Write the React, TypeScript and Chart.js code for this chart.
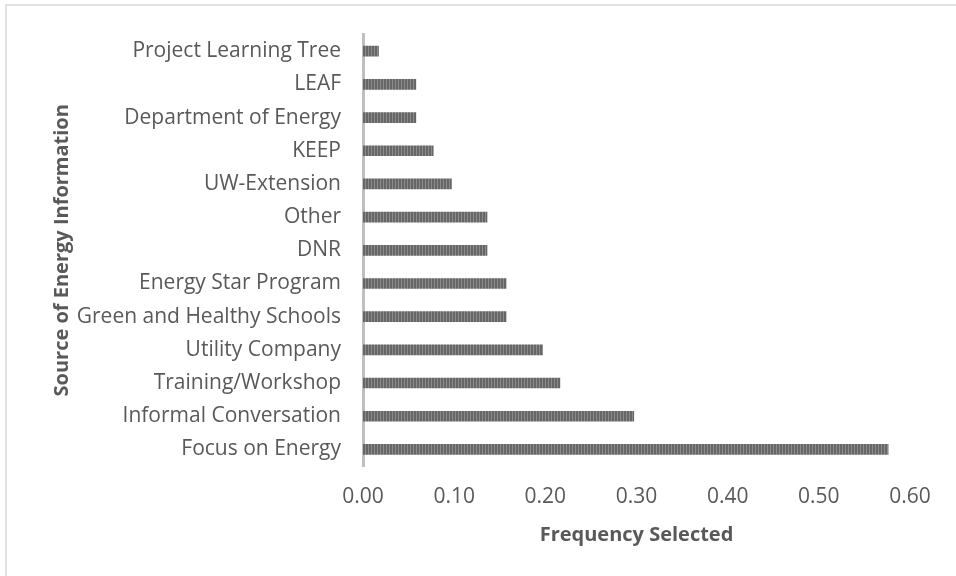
import React, { useEffect, useRef } from "react";
import { Chart, registerables } from "chart.js";

Chart.register(...registerables);

const categories = [
  "Project Learning Tree",
  "LEAF",
  "Department of Energy",
  "KEEP",
  "UW-Extension",
  "Other",
  "DNR",
  "Energy Star Program",
  "Green and Healthy Schools",
  "Utility Company",
  "Training/Workshop",
  "Informal Conversation",
  "Focus on Energy",
];

const frequency = [0.017, 0.058, 0.058, 0.077, 0.097, 0.136, 0.136, 0.157, 0.157, 0.197, 0.216, 0.297, 0.576];

const xTicks = [0, 0.1, 0.2, 0.3, 0.4, 0.5, 0.6];

const xTitle = "Frequency Selected";
const yTitle = "Source of Energy Information";

const TEXT = "#595959";
const FONT = "'Open Sans', Lato, sans-serif";

function makePattern(): CanvasPattern | string {
  const c = document.createElement("canvas");
  c.width = 3;
  c.height = 4;
  const g = c.getContext("2d");
  if (!g) return "#707070";
  g.fillStyle = "#666666";
  g.fillRect(0, 0, 2, 4);
  g.fillStyle = "#8c8c8c";
  g.fillRect(2, 0, 1, 4);
  const p = g.createPattern(c, "repeat");
  return p || "#707070";
}

const framePlugin = {
  id: "frame",
  beforeDraw(chart: any) {
    const ctx = chart.ctx;
    ctx.save();
    ctx.fillStyle = "#ffffff";
    ctx.fillRect(0, 0, chart.width, chart.height);
    ctx.strokeStyle = "#d9d9d9";
    ctx.lineWidth = 1.5;
    ctx.beginPath();
    ctx.moveTo(6, chart.height + 2);
    ctx.lineTo(6, 5);
    ctx.lineTo(chart.width + 2, 5);
    ctx.stroke();
    ctx.restore();
  },
};

export default function App() {
  const ref = useRef<HTMLCanvasElement | null>(null);

  useEffect(() => {
    if (!ref.current) return;
    const pattern = makePattern();
    const chart = new Chart(ref.current, {
      type: "bar",
      data: {
        labels: categories,
        datasets: [
          {
            data: frequency,
            backgroundColor: pattern as any,
            borderWidth: 0,
            barThickness: 10,
          },
        ],
      },
      plugins: [framePlugin],
      options: {
        indexAxis: "y",
        animation: false,
        responsive: false,
        layout: { padding: { top: 33, right: 46, bottom: 0, left: 0 } },
        plugins: {
          legend: { display: false },
          tooltip: { enabled: false },
        },
        scales: {
          x: {
            min: 0,
            max: 0.6,
            afterBuildTicks: (scale: any) => {
              scale.ticks = xTicks.map((v) => ({ value: v }));
            },
            afterFit: (scale: any) => {
              scale.height = 110;
            },
            grid: { display: false, drawTicks: false },
            border: { display: false },
            ticks: {
              padding: 18,
              color: TEXT,
              font: { family: FONT, size: 21 },
              callback: (v: any) => Number(v).toFixed(2),
              maxRotation: 0,
            },
            title: {
              display: true,
              text: xTitle,
              color: TEXT,
              font: { family: FONT, size: 20, weight: "bold" },
              padding: { top: 0, bottom: 29 },
            },
          },
          y: {
            afterFit: (scale: any) => {
              scale.width = 363;
            },
            grid: { display: false, drawTicks: false },
            border: { display: true, color: "#bfbfbf", width: 3 },
            ticks: {
              padding: 22,
              color: TEXT,
              font: { family: FONT, size: 21 },
              autoSkip: false,
            },
            title: {
              display: true,
              text: yTitle,
              color: TEXT,
              font: { family: FONT, size: 20, weight: "bold" },
              padding: { top: 50, bottom: 0 },
            },
          },
        },
      },
    });
    return () => chart.destroy();
  }, []);

  return (
    <div style={{ position: "fixed", left: 0, top: 0, width: 956, height: 576 }}>
      <canvas ref={ref} width={956} height={576} style={{ width: 956, height: 576 }} />
    </div>
  );
}
